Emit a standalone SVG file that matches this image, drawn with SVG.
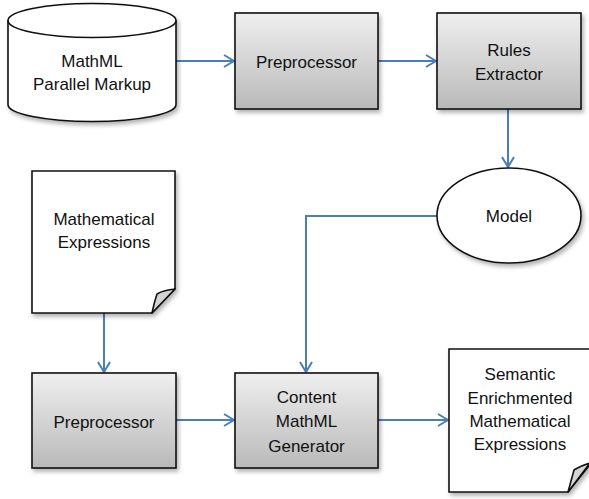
<svg xmlns="http://www.w3.org/2000/svg" width="589" height="499" viewBox="0 0 589 499">
  <style>
    text { font-family: "Liberation Sans", Arial, sans-serif; font-size: 17px; fill: #111; text-anchor: middle; }
    .box { fill: url(#boxFill); stroke: #111; stroke-width: 1.6; filter: url(#shadow); }
    .plain { fill: #fff; stroke: #111; stroke-width: 1.6; filter: url(#shadow); }
    .flap { fill: #d4d4d4; stroke: #111; stroke-width: 1.6; stroke-linejoin: round; }
    .edge { fill: none; stroke: #4a7ebb; stroke-width: 2; marker-end: url(#arrow); }
  </style>
  <defs>
    <linearGradient id="boxFill" x1="0" y1="0" x2="0" y2="1">
      <stop offset="0" stop-color="#efefef"/>
      <stop offset="1" stop-color="#b9b9b9"/>
    </linearGradient>
    <filter id="shadow" x="-10%" y="-10%" width="130%" height="130%">
      <feDropShadow dx="2" dy="3" stdDeviation="2" flood-color="#000" flood-opacity="0.3"/>
    </filter>
    <marker id="arrow" viewBox="0 0 12 14" refX="11" refY="7" markerWidth="12" markerHeight="14" markerUnits="userSpaceOnUse" orient="auto">
      <path d="M1,1 L11,7 L1,13" fill="none" stroke="#4a7ebb" stroke-width="2"/>
    </marker>
  </defs>

  <!-- connectors -->
  <g id="connectors">
    <path class="edge" d="M176,61 H234"/>
    <path class="edge" d="M378,61 H436"/>
    <path class="edge" d="M508,109 V167"/>
    <path class="edge" d="M437,216 H306 V372"/>
    <path class="edge" d="M104,313 V372"/>
    <path class="edge" d="M176,420 H234"/>
    <path class="edge" d="M378,420 H448"/>
  </g>

  <!-- data store -->
  <g id="parallel-markup">
    <path class="plain" d="M8,20.5 V104.5 A84,17 0 0 0 176,104.5 V20.5 A84,17 0 0 0 8,20.5 Z"/>
    <path d="M8,20.5 A84,17 0 0 0 176,20.5" fill="none" stroke="#111" stroke-width="1.6"/>
    <text x="92" y="67">MathML</text>
    <text x="92" y="90">Parallel Markup</text>
  </g>

  <g id="preprocessor-top">
    <rect class="box" x="235" y="13" width="143" height="96"/>
    <text x="306.5" y="68">Preprocessor</text>
  </g>

  <g id="rules-extractor">
    <rect class="box" x="437" y="13" width="144" height="96"/>
    <text x="509" y="56">Rules</text>
    <text x="509" y="80">Extractor</text>
  </g>

  <g id="model">
    <ellipse class="plain" cx="509" cy="215.5" rx="72" ry="47.5"/>
    <text x="509" y="222">Model</text>
  </g>

  <!-- input document -->
  <g id="math-expressions">
    <path class="plain" d="M32,171 H175 V289 L152,313 H32 Z"/>
    <path class="flap" d="M175,289 Q164,290 157,294 Q154,303 152,313 Z"/>
    <text x="104" y="225">Mathematical</text>
    <text x="104" y="248">Expressions</text>
  </g>

  <g id="preprocessor-bottom">
    <rect class="box" x="32" y="373" width="144" height="95"/>
    <text x="104" y="428">Preprocessor</text>
  </g>

  <g id="content-generator">
    <rect class="box" x="235" y="373" width="143" height="95"/>
    <text x="306.5" y="403">Content</text>
    <text x="306.5" y="427">MathML</text>
    <text x="306.5" y="452">Generator</text>
  </g>

  <!-- output document -->
  <g id="enriched-expressions">
    <path class="plain" d="M449,349 H592 V462 L568,492 H449 Z"/>
    <path class="flap" d="M590,463 Q580,466 574,470 Q571,481 568,492 Z"/>
    <text x="520" y="380">Semantic</text>
    <text x="520" y="404">Enrichmented</text>
    <text x="520" y="427">Mathematical</text>
    <text x="520" y="450">Expressions</text>
  </g>
</svg>
